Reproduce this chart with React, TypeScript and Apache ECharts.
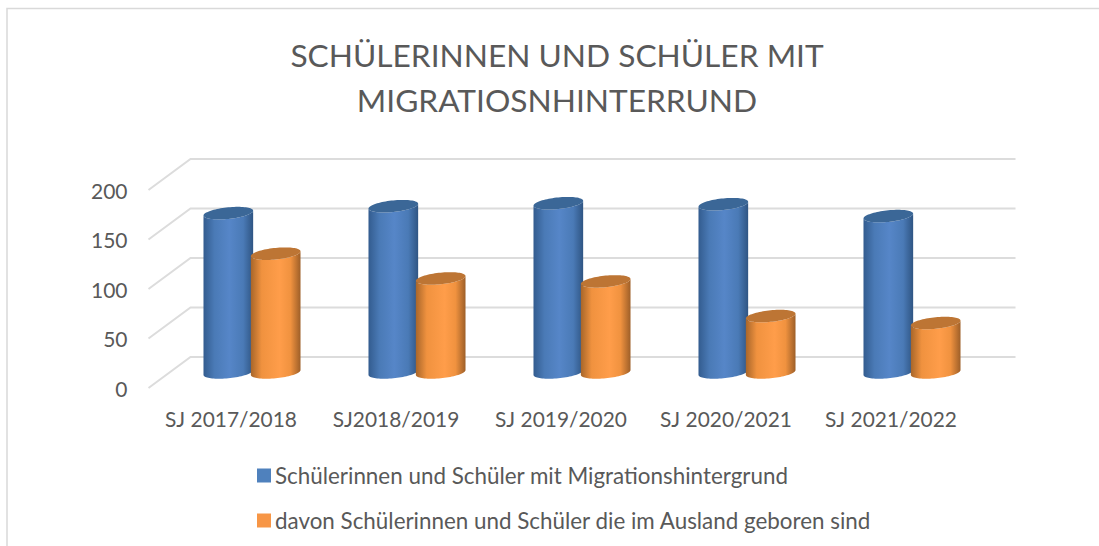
import React, { useEffect, useRef } from "react";
import * as echarts from "echarts";

const categories = ["SJ 2017/2018", "SJ2018/2019", "SJ 2019/2020", "SJ 2020/2021", "SJ 2021/2022"];
const migrationValues = [161, 168, 171, 170, 158];
const bornAbroadValues = [120, 95, 92, 57, 50];
const yTicks = [0, 50, 100, 150, 200];
const seriesNames = [
  "Schülerinnen und Schüler mit Migrationshintergrund",
  "davon Schülerinnen und Schüler die im Ausland geboren sind",
];
const titleText = "SCHÜLERINNEN UND SCHÜLER MIT\nMIGRATIOSNHINTERRUND";

const FONT = "Lato, 'Open Sans', sans-serif";
const DEPTH_X = 42;
const DEPTH_Y = 31;

function wallItem(params: any, api: any) {
  const cs = params.coordSys;
  const y = api.coord([0, api.value(1)])[1];
  return {
    type: "polyline",
    silent: true,
    shape: {
      points: [
        [cs.x, y],
        [cs.x + DEPTH_X, y - DEPTH_Y],
        [cs.x + cs.width + DEPTH_X, y - DEPTH_Y],
      ],
    },
    style: { stroke: "#DCDCDC", lineWidth: 2, fill: "none" },
  };
}

function cylinderItem(side: number, colors: { edgeL: string; mid: string; bright: string; midPos: number; edgeR: string; top: string }) {
  return (_params: any, api: any) => {
    const idx = api.value(0);
    const band = api.size([1, 0])[0];
    const top = api.coord([idx, api.value(1)]);
    const base = api.coord([idx, 0]);
    const cx = top[0] + DEPTH_X / 2 + side * band * 0.1435;
    const a = band * 0.1505;
    const b = 5.8;
    const k = 2.4;
    const topY = top[1] - DEPTH_Y / 2;
    const baseY = base[1] - DEPTH_Y / 2;
    const px = (t: number, cy: number) => [cx + a * Math.cos(t), cy + b * Math.sin(t) - k * Math.cos(t)];
    const N = 40;
    const bodyPts: number[][] = [];
    for (let i = 0; i <= N; i++) bodyPts.push(px(Math.PI - (Math.PI * i) / N, baseY));
    for (let i = 0; i <= N; i++) bodyPts.push(px((Math.PI * i) / N, topY));
    const capPts: number[][] = [];
    for (let i = 0; i < N * 2; i++) capPts.push(px((Math.PI * i) / N, topY));
    return {
      type: "group",
      children: [
        {
          type: "polygon",
          shape: { points: bodyPts },
          style: {
            fill: new echarts.graphic.LinearGradient(0, 0, 1, 0, [
              { offset: 0, color: colors.edgeL },
              { offset: 0.22, color: colors.mid },
              { offset: colors.midPos, color: colors.bright },
              { offset: 0.8, color: colors.mid },
              { offset: 1, color: colors.edgeR },
            ]),
          },
        },
        { type: "polygon", shape: { points: capPts }, style: { fill: colors.top } },
      ],
    };
  };
}

const blue = { edgeL: "#335C8F", mid: "#4A7AB6", bright: "#5686C8", midPos: 0.52, edgeR: "#2F5583", top: "#3B6797" };
const orange = { edgeL: "#A8662A", mid: "#F0923F", bright: "#FF9D4A", midPos: 0.58, edgeR: "#9E5F28", top: "#BD7534" };

export default function App() {
  const ref = useRef<HTMLDivElement>(null);
  useEffect(() => {
    const chart = echarts.init(ref.current!, null, { renderer: "svg" });
    chart.setOption({
      animation: false,
      backgroundColor: "#FFFFFF",
      title: {
        text: titleText,
        left: 552,
        top: 27,
        textAlign: "center",
        textStyle: { fontFamily: FONT, fontSize: 31.7, fontWeight: "normal", color: "#595959", lineHeight: 45 },
      },
      legend: {
        orient: "vertical",
        left: 252,
        top: 459,
        itemWidth: 14,
        itemHeight: 14,
        itemGap: 22,
        icon: "rect",
        data: seriesNames,
        textStyle: { fontFamily: FONT, fontSize: 22.4, color: "#595959", lineHeight: 23, padding: [0, 0, 0, -1] },
      },
      grid: { left: 148.5, top: 190, width: 825, height: 198 },
      xAxis: {
        type: "category",
        data: categories,
        axisLine: { show: false },
        axisTick: { show: false },
        axisLabel: { fontFamily: FONT, fontSize: 20.9, color: "#595959", margin: 20, interval: 0 },
      },
      yAxis: {
        type: "value",
        min: 0,
        max: 200,
        interval: 50,
        axisLine: { show: false },
        axisTick: { show: false },
        splitLine: { show: false },
        axisLabel: { fontFamily: FONT, fontSize: 21, color: "#595959", margin: 21 },
      },
      series: [
        {
          type: "custom",
          name: "wall",
          silent: true,
          clip: false,
          renderItem: wallItem,
          data: yTicks.map((t) => [0, t]),
          encode: { x: 0, y: 1 },
          z: 1,
        },
        {
          type: "custom",
          name: seriesNames[0],
          clip: false,
          itemStyle: { color: "#4F81BD" },
          renderItem: cylinderItem(-1, blue),
          data: migrationValues.map((v, i) => [i, v]),
          encode: { x: 0, y: 1 },
          z: 2,
        },
        {
          type: "custom",
          name: seriesNames[1],
          clip: false,
          itemStyle: { color: "#F79646" },
          renderItem: cylinderItem(1, orange),
          data: bornAbroadValues.map((v, i) => [i, v]),
          encode: { x: 0, y: 1 },
          z: 3,
        },
      ],
      graphic: [
        {
          type: "polyline",
          silent: true,
          z: 0,
          shape: { points: [[7, 546], [7, 8.5], [1099, 8.5]] },
          style: { stroke: "#D9D9D9", lineWidth: 1.5, fill: "none" },
        },
      ],
    });
    return () => chart.dispose();
  }, []);
  return <div ref={ref} style={{ position: "absolute", left: 0, top: 0, width: 1099, height: 546 }} />;
}
